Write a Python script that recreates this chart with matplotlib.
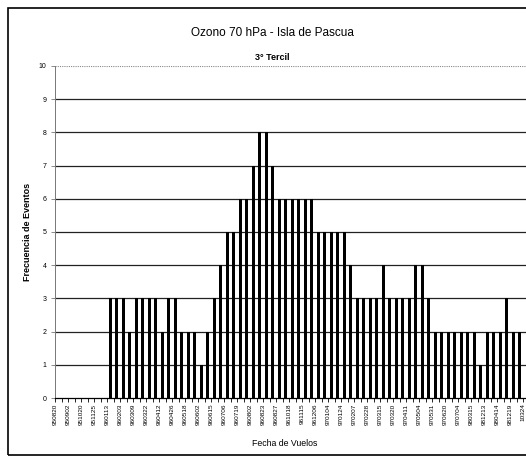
import matplotlib.pyplot as plt
from matplotlib.patches import Rectangle
import numpy as np

plt.rcParams['font.family'] = ['Liberation Sans', 'DejaVu Sans']

# fechas de vuelo (una etiqueta cada dos barras)
fechas = ['950820', '950902', '951020', '951125', '960113', '960203', '960309',
          '960322', '960412', '960426', '960518', '960602', '960615', '960706',
          '960719', '960802', '960823', '960827', '961018', '961115', '961206',
          '970104', '970124', '970207', '970228', '970315', '970320', '970411',
          '970504', '970531', '970620', '970704', '980315', '981213', '980414',
          '981219', '10324']

# frecuencia de eventos por vuelo
frecuencia = [0, 0, 0, 0, 0, 0, 0, 0,
              3, 3, 3, 2, 3, 3, 3, 3, 2, 3, 3, 2, 2, 2, 1, 2, 3, 4,
              5, 5, 6, 6, 7, 8, 8, 7, 6, 6, 6, 6, 6, 6, 5, 5, 5, 5, 5,
              4, 3, 3, 3, 3, 4, 3, 3, 3, 3, 4, 4, 3, 2, 2, 2, 2, 2, 2, 2,
              1, 2, 2, 2, 3, 2, 2]

W, H = 526, 461
fig = plt.figure(figsize=(W / 100, H / 100), dpi=100)

n_cat = 74
x = np.arange(len(frecuencia))
ax = fig.add_axes([55 / W, 1 - 398 / H, n_cat * 6.5 / W, 332 / H])
ax.bar(x, frecuencia, width=0.42, color='black', zorder=3)

ax.set_xlim(-0.5, n_cat - 0.5)
ax.set_ylim(0, 10)

# lineas de division
for v in range(1, 10):
    ax.axhline(v, color='#222222', lw=0.9, zorder=1)
ax.axhline(10, color='#888888', lw=0.8, ls=(0, (1, 1)), zorder=1)

ax.set_yticks(range(0, 11))
ax.set_yticklabels([str(v) for v in range(0, 11)], fontsize=5)
ax.set_xticks(np.arange(0, 2 * len(fechas), 2) - 0.45)
ax.set_xticklabels(fechas, rotation=90, fontsize=4.6)
ax.set_xticks(np.arange(-0.5, n_cat, 1), minor=True)
ax.tick_params(axis='x', which='major', length=0, pad=4)
ax.tick_params(axis='x', which='minor', length=3, width=0.6, direction='out')
ax.tick_params(axis='y', length=3, width=0.6, pad=3, color='#777777')

for s in ['top', 'right']:
    ax.spines[s].set_visible(False)
ax.spines['left'].set_color('#777777')
ax.spines['left'].set_linewidth(0.7)
ax.spines['bottom'].set_linewidth(0.9)

fig.text(272 / W, 1 - 33 / H, 'Ozono 70 hPa - Isla de Pascua', ha='center', va='center', fontsize=8.5)
fig.text(272 / W, 1 - 57 / H, '3° Tercil', ha='center', va='center', fontsize=6.5, fontweight='bold')
fig.text(28 / W, 1 - 232 / H, 'Frecuencia de Eventos', rotation=90, ha='center', va='center',
         fontsize=6.5, fontweight='bold')
fig.text(285 / W, 1 - 443 / H, 'Fecha de Vuelos', ha='center', va='center', fontsize=6.3)

# marco exterior
fig.patches.append(Rectangle((8 / W, 1 - 455 / H), 1.0, 447 / H, transform=fig.transFigure,
                             fill=False, edgecolor='black', lw=1.2))

fig.savefig('out.png', dpi=100)
